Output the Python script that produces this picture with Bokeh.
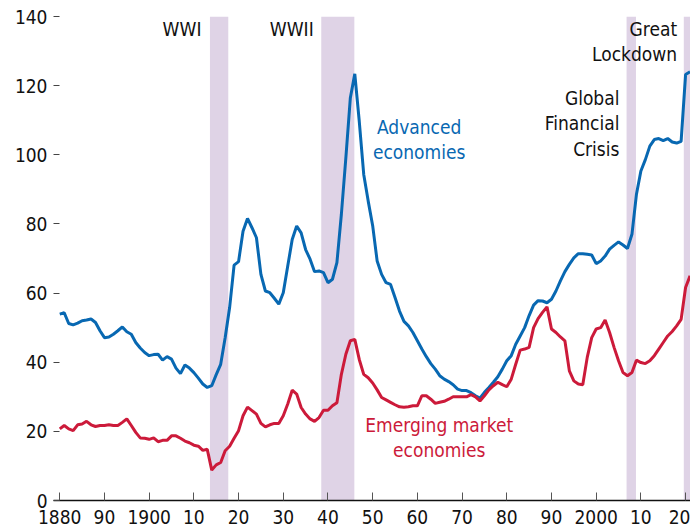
from bokeh.plotting import figure
from bokeh.models import Range1d, FixedTicker, Label, ColumnDataSource
from bokeh.embed import file_html
from bokeh.resources import INLINE

years = list(range(1880, 2022))

advanced = [
    53.9, 54.3, 51.2, 50.8, 51.3, 52.0, 52.2, 52.5, 51.5, 49.1,
    47.1, 47.3, 48.1, 49.1, 50.2, 48.8, 48.1, 45.7, 44.1, 42.8,
    41.9, 42.2, 42.3, 40.6, 41.6, 40.9, 38.3, 36.7, 39.2, 38.3,
    37.0, 35.4, 33.7, 32.7, 33.2, 36.4, 39.4, 47.1, 55.8, 68.1,
    69.1, 77.9, 81.6, 78.9, 76.0, 65.4, 60.6, 60.1, 58.5, 56.8,
    60.1, 67.8, 75.5, 79.4, 77.4, 72.6, 69.8, 66.2, 66.4, 65.9,
    63.0, 64.0, 68.8, 82.8, 99.1, 116.4, 123.4, 109.7, 94.3, 86.6,
    79.5, 69.3, 65.4, 63.0, 62.5, 58.7, 54.8, 51.8, 50.5, 48.6,
    46.2, 43.8, 41.6, 39.6, 38.0, 36.1, 35.1, 34.4, 33.5, 32.2,
    31.8, 31.8, 31.2, 30.3, 29.6, 31.3, 32.7, 34.2, 35.8, 38.0,
    40.4, 41.9, 45.2, 47.6, 50.0, 53.5, 56.5, 57.8, 57.7, 57.2,
    58.2, 60.6, 63.5, 66.2, 68.3, 70.2, 71.4, 71.4, 71.2, 71.0,
    68.5, 69.3, 70.7, 72.7, 73.8, 74.8, 73.9, 72.9, 77.0, 88.5,
    95.3, 98.6, 102.5, 104.4, 104.7, 104.1, 104.7, 103.7, 103.4, 103.9,
    123.2, 124.0,
]

emerging = [
    20.7, 21.7, 20.7, 20.2, 21.9, 22.1, 22.9, 21.9, 21.4, 21.7,
    21.7, 21.9, 21.7, 21.7, 22.6, 23.6, 21.7, 19.7, 18.1, 18.0,
    17.7, 18.1, 17.0, 17.4, 17.4, 18.7, 18.7, 18.0, 17.2, 16.7,
    16.0, 15.7, 14.5, 14.8, 8.8, 10.3, 11.0, 14.4, 15.7, 18.0,
    20.2, 24.5, 27.0, 26.0, 25.0, 22.3, 21.3, 21.9, 22.3, 22.3,
    24.5, 27.9, 31.9, 30.8, 26.9, 25.0, 23.6, 22.9, 24.0, 26.1,
    26.1, 27.4, 28.3, 36.5, 42.3, 46.2, 46.6, 40.8, 36.5, 35.5,
    34.0, 32.0, 29.8, 29.1, 28.4, 27.7, 27.1, 27.0, 27.1, 27.4,
    27.4, 30.3, 30.3, 29.3, 28.1, 28.4, 28.7, 29.3, 30.0, 30.0,
    30.0, 30.0, 30.6, 30.0, 28.8, 30.3, 32.0, 33.2, 34.2, 33.5,
    32.9, 35.1, 39.4, 43.5, 43.8, 44.3, 50.0, 52.6, 54.4, 56.0,
    49.6, 48.6, 47.3, 46.2, 37.5, 34.6, 33.7, 33.5, 41.4, 47.1,
    49.6, 50.0, 52.2, 48.6, 44.3, 40.4, 37.0, 36.1, 37.0, 40.6,
    39.9, 39.6, 40.4, 41.9, 43.8, 45.7, 47.6, 48.9, 50.5, 52.4,
    61.6, 65.0,
]

band_names = ["WWI", "WWII", "Global Financial Crisis", "Great Lockdown"]
band_start = [1913.6, 1938.5, 2006.8, 2019.6]
band_end = [1917.7, 1945.9, 2008.9, 2023.0]

x_ticks = [1880, 1890, 1900, 1910, 1920, 1930, 1940, 1950, 1960, 1970,
           1980, 1990, 2000, 2010, 2020]
x_tick_labels = ["1880", "90", "1900", "10", "20", "30", "40", "50", "60",
                 "70", "80", "90", "2000", "10", "20"]
y_ticks = [0, 20, 40, 60, 80, 100, 120, 140]

FONT = "'DejaVu Sans Condensed', 'Roboto', sans-serif"
BLUE = "#0868b2"
RED = "#cc1a3a"
BAND = "#dfd3e6"

p = figure(width=690, height=531, x_range=Range1d(1878.6, 2021.1),
           y_range=Range1d(0, 140), output_backend="svg",
           toolbar_location=None, min_border_left=53, min_border_right=0,
           min_border_top=16, min_border_bottom=31)
p.outline_line_color = None
p.grid.visible = False
p.background_fill_color = "white"

p.quad(left=band_start, right=band_end, bottom=0, top=140,
       fill_color=BAND, line_color=None)

src = ColumnDataSource(dict(year=years, adv=advanced, em=emerging))
p.line("year", "adv", source=src, line_color=BLUE, line_width=3)
p.line("year", "em", source=src, line_color=RED, line_width=3)

xa = p.xaxis[0]
xa.ticker = FixedTicker(ticks=x_ticks)
xa.major_label_overrides = {t: l for t, l in zip(x_ticks, x_tick_labels)}
xa.major_tick_in = 8
xa.major_tick_out = 0
xa.minor_tick_line_color = None
xa.major_tick_line_color = "#555555"
xa.axis_line_color = "#111111"
xa.axis_line_width = 1.3
xa.major_label_text_font = FONT
xa.major_label_text_font_size = "19px"
xa.major_label_text_color = "#111111"
xa.major_label_standoff = 9

ya = p.yaxis[0]
ya.ticker = FixedTicker(ticks=y_ticks)
ya.axis_line_color = None
ya.major_tick_in = 6
ya.major_tick_out = 0
ya.minor_tick_line_color = None
ya.major_tick_line_color = "#444444"
ya.major_label_text_font = FONT
ya.major_label_text_font_size = "19px"
ya.major_label_text_color = "#111111"
ya.major_label_standoff = 6

SHIFT = 2.6

def lab(x, y, text, align, color="#111111"):
    p.add_layout(Label(x=x, y=y + SHIFT, text=text, text_align=align,
                       text_baseline="alphabetic", text_font=FONT,
                       text_font_size="19px", text_color=color))

lab(1911.7, 133.7, "WWI", "right")
lab(1936.8, 133.7, "WWII", "right")
lab(2018.1, 133.9, "Great", "right")
lab(2018.1, 126.5, "Lockdown", "right")
lab(2005.2, 113.7, "Global", "right")
lab(2005.2, 106.5, "Financial", "right")
lab(2005.2, 99.1, "Crisis", "right")
lab(1960.4, 105.4, "Advanced", "center", BLUE)
lab(1960.4, 98.2, "economies", "center", BLUE)
lab(1964.9, 19.3, "Emerging market", "center", RED)
lab(1964.9, 12.0, "economies", "center", RED)

open("out.html", "w").write(file_html(p, INLINE))
